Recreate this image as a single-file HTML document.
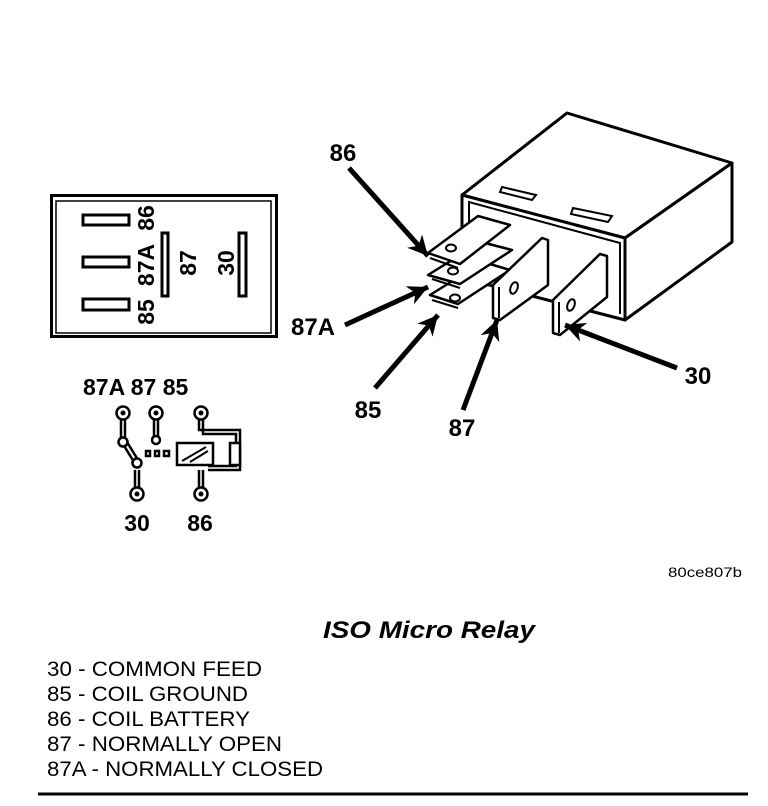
<!DOCTYPE html>
<html><head><meta charset="utf-8"><style>
html,body{margin:0;padding:0;background:#fff;}
svg{display:block;}
text{font-family:"Liberation Sans",sans-serif;fill:#000;}
.b{font-weight:bold;font-size:24px;}
</style></head><body>
<svg width="768" height="806" viewBox="0 0 768 806" xmlns="http://www.w3.org/2000/svg">
<defs>
<marker id="ah" viewBox="0 0 10 10" refX="10" refY="5" markerWidth="5" markerHeight="4" orient="auto" markerUnits="strokeWidth">
<path d="M0,0 L10,5 L0,10 L3,5 z" fill="#000"/></marker>
</defs>
<!-- left box -->
<rect x="51.5" y="195.5" width="225" height="141" fill="none" stroke="#000" stroke-width="3"/>
<rect x="56" y="201" width="215" height="132" fill="none" stroke="#000" stroke-width="1.5"/>
<g fill="#fff" stroke="#000" stroke-width="3">
<rect x="83" y="215" width="46" height="10"/>
<rect x="83" y="257" width="46" height="10"/>
<rect x="83" y="299" width="46" height="11"/>
<rect x="162" y="233" width="6" height="63"/>
<rect x="239" y="233" width="7" height="63"/>
</g>
<g>
<text transform="translate(154,218) rotate(-90)" text-anchor="middle" class="b" style="font-size:23px">86</text>
<text transform="translate(154,265) rotate(-90)" text-anchor="middle" class="b" style="font-size:23px">87A</text>
<text transform="translate(154,312) rotate(-90)" text-anchor="middle" class="b" style="font-size:23px">85</text>
<text transform="translate(196,263) rotate(-90)" text-anchor="middle" class="b" style="font-size:23px">87</text>
<text transform="translate(234,263) rotate(-90)" text-anchor="middle" class="b" style="font-size:23px">30</text>
</g>
<!-- schematic -->
<text x="83" y="395" class="b" style="font-size:23px">87A 87 85</text>
<text x="137" y="531" class="b" text-anchor="middle" style="font-size:23px">30</text>
<text x="200" y="531" class="b" text-anchor="middle" style="font-size:23px">86</text>
<g fill="#fff" stroke="#000" stroke-width="2.5">
<path d="M121,418 V440 M125,418 V440" />
<path d="M154,418 V437 M158,418 V437"/>
<path d="M135,470 V489 M139,470 V489"/>
<path d="M199,418 V430 H240 V470 H208 M203,418 V434 H236 V466 H208" fill="none"/>
<path d="M199,470 V489 M203,470 V489" fill="none"/>
<path d="M123,444 L134,462 M127,442 L138,460" fill="none"/>
<circle cx="123" cy="413" r="6.5"/><circle cx="156" cy="413" r="6.5"/><circle cx="201" cy="413" r="6.5"/>
<circle cx="137" cy="494" r="6.5"/><circle cx="201" cy="494" r="6.5"/>
<circle cx="123" cy="442" r="4.5"/><circle cx="156" cy="440" r="4"/><circle cx="137" cy="463" r="4.5"/>
<rect x="177" y="443" width="36" height="22"/>
<rect x="230" y="443" width="10" height="22"/>
<rect x="146" y="451" width="4" height="5" /><rect x="155" y="451" width="4" height="5"/><rect x="164" y="451" width="5" height="5"/>
</g>
<circle cx="123" cy="413" r="2.5" fill="#000"/><circle cx="156" cy="413" r="2.5" fill="#000"/><circle cx="201" cy="413" r="2.5" fill="#000"/>
<circle cx="137" cy="494" r="2.5" fill="#000"/><circle cx="201" cy="494" r="2.5" fill="#000"/>
<path d="M182,461 L206,447 M190,462 L208,451" stroke="#000" stroke-width="2"/>
<!-- relay 3D -->
<g fill="#fff" stroke="#000" stroke-width="3" stroke-linejoin="round">
<polygon points="462,195 567,113 732,163 625,238"/>
<polygon points="625,238 732,163 732,242 625,320"/>
<polygon points="462,195 625,238 625,320 462,278"/>
</g>
<g fill="none" stroke="#000" stroke-width="2">
<polyline points="469,232 469,202 620,243 620,314"/>
<polygon points="502,187 536,195 532,200 500,192"/>
<polygon points="573,208 612,216 608,222 571,214"/>
</g>
<!-- flat tabs -->
<g fill="#fff" stroke="#000" stroke-width="2.5" stroke-linejoin="round">
<polygon points="430,295 458,304 510,270 483,262"/>
<polygon points="428,275 460,284 512,250 481,242"/>
<polygon points="428,253 460,264 510,225 478,216"/>
<polygon points="493,285 493,318 500,320 548,285 548,240 542,238"/>
<polygon points="553,300 553,333 560,335 607,297 607,256 600,254"/>
</g>
<g fill="none" stroke="#000" stroke-width="2">
<path d="M430,258 L458,268 M432,279 L460,288 M432,300 L458,308"/>
<path d="M499,287 L499,318 M559,302 L559,333"/>
<ellipse cx="451" cy="248" rx="5" ry="3.5"/><ellipse cx="453" cy="271" rx="5" ry="3.5"/><ellipse cx="455" cy="298" rx="5" ry="3.5"/>
<ellipse cx="514" cy="288" rx="3.5" ry="6" transform="rotate(20 514 288)"/>
<ellipse cx="571" cy="305" rx="3.5" ry="6" transform="rotate(20 571 305)"/>
</g>
<!-- arrows -->
<g stroke="#000" stroke-width="5" marker-end="url(#ah)">
<line x1="349" y1="168" x2="428" y2="256"/>
<line x1="345" y1="325" x2="428" y2="287"/>
<line x1="375" y1="388" x2="438" y2="315"/>
<line x1="463" y1="410" x2="497" y2="320"/>
<line x1="677" y1="368" x2="565" y2="325"/>
</g>
<text x="343" y="161" class="b" text-anchor="middle">86</text>
<text x="313" y="335" class="b" text-anchor="middle">87A</text>
<text x="368" y="418" class="b" text-anchor="middle">85</text>
<text x="462" y="436" class="b" text-anchor="middle">87</text>
<text x="698" y="384" class="b" text-anchor="middle">30</text>
<!-- bottom text -->
<text x="668" y="577" font-size="14" textLength="74" lengthAdjust="spacingAndGlyphs">80ce807b</text>
<text x="323" y="638" font-size="24" font-weight="bold" font-style="italic" textLength="212" lengthAdjust="spacingAndGlyphs">ISO Micro Relay</text>
<g font-size="21">
<text x="47" y="676" textLength="215" lengthAdjust="spacingAndGlyphs">30 - COMMON FEED</text>
<text x="47" y="701" textLength="201" lengthAdjust="spacingAndGlyphs">85 - COIL GROUND</text>
<text x="47" y="726" textLength="203" lengthAdjust="spacingAndGlyphs">86 - COIL BATTERY</text>
<text x="47" y="751" textLength="235" lengthAdjust="spacingAndGlyphs">87 - NORMALLY OPEN</text>
<text x="47" y="776" textLength="276" lengthAdjust="spacingAndGlyphs">87A - NORMALLY CLOSED</text>
</g>
<line x1="38" y1="794" x2="748" y2="794" stroke="#000" stroke-width="3"/>
</svg>
</body></html>
